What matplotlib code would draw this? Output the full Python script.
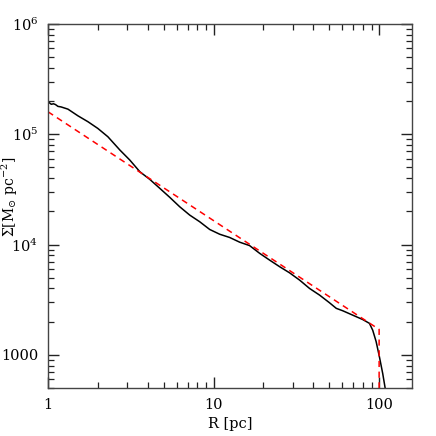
import numpy as np
import matplotlib.pyplot as plt
from matplotlib.ticker import FixedLocator, LogLocator, NullFormatter

# surface density profile
r_prof = [1.0, 1.02, 1.047, 1.08, 1.11, 1.149, 1.2, 1.32, 1.517, 1.743, 2.0,
          2.3, 2.72, 3.12, 3.59, 4.12, 4.74, 5.44, 6.25, 7.18, 8.25,
          9.48, 10.9, 12.5, 14.4, 16.5, 19.0, 21.8, 25.1, 28.8, 33.1, 38.0,
          43.7, 50.1, 55.1, 60.3, 69.3, 79.6, 87.4, 91.5, 95.9, 100.4, 105.1,
          108.7, 111.0]
sigma_prof = [1.97e5, 1.93e5, 1.87e5, 1.89e5, 1.86e5, 1.79e5, 1.77e5, 1.69e5,
              1.47e5, 1.30e5, 1.13e5, 9.50e4, 7.19e4, 5.84e4, 4.57e4,
              3.90e4, 3.23e4, 2.68e4, 2.20e4, 1.85e4, 1.61e4, 1.37e4, 1.24e4,
              1.16e4, 1.05e4, 9.79e3, 8.32e3, 7.23e3, 6.29e3, 5.54e3, 4.76e3,
              4.00e3, 3.48e3, 2.97e3, 2.64e3, 2.51e3, 2.29e3, 2.09e3, 1.93e3,
              1.67e3, 1.32e3, 960, 678, 501, 420]

# truncated power-law model (dashed)
r_fit = [1.0, 100.0, 100.0]
sigma_fit = [1.6e5, 1.7e3, 300]

x_ticks = [1, 10, 100]
x_ticklabels = ['1', '10', '100']
y_ticks = [1e3, 1e4, 1e5, 1e6]
y_ticklabels = ['1000', r'$10^4$', r'$10^5$', r'$10^6$']

plt.rcParams['font.family'] = 'DejaVu Serif'
plt.rcParams['mathtext.fontset'] = 'dejavuserif'

fig = plt.figure(figsize=(4.36, 4.36), dpi=100)
ax = fig.add_axes([0.110, 0.110, 0.835, 0.835])

ax.plot(r_prof, sigma_prof, color='black', lw=1.1)
ax.plot(r_fit, sigma_fit, color='red', lw=1.1, dashes=(4, 3))

ax.set_xscale('log')
ax.set_yscale('log')
ax.set_xlim(1, 158)
ax.set_ylim(500, 1e6)

ax.xaxis.set_major_locator(FixedLocator(x_ticks))
ax.set_xticklabels(x_ticklabels)
ax.yaxis.set_major_locator(FixedLocator(y_ticks))
ax.set_yticklabels(y_ticklabels)
ax.xaxis.set_minor_locator(LogLocator(base=10, subs=np.arange(2, 10)))
ax.yaxis.set_minor_locator(LogLocator(base=10, subs=np.arange(2, 10)))
ax.xaxis.set_minor_formatter(NullFormatter())
ax.yaxis.set_minor_formatter(NullFormatter())

ax.tick_params(which='both', direction='in', top=True, right=True,
               color='#222222', labelsize=10.5)
ax.tick_params(which='major', length=8, width=1, pad=7)
ax.tick_params(which='minor', length=4, width=0.9)
for s in ax.spines.values():
    s.set_linewidth(1.0)
    s.set_color('#444444')

ax.set_xlabel('R [pc]', fontsize=10.5, labelpad=4)
ax.set_ylabel(r'$\Sigma$[M$_{\odot}$ pc$^{-2}$]', fontsize=10)
ax.yaxis.set_label_coords(-0.077, 0.525)

fig.savefig('out.png', dpi=100)
